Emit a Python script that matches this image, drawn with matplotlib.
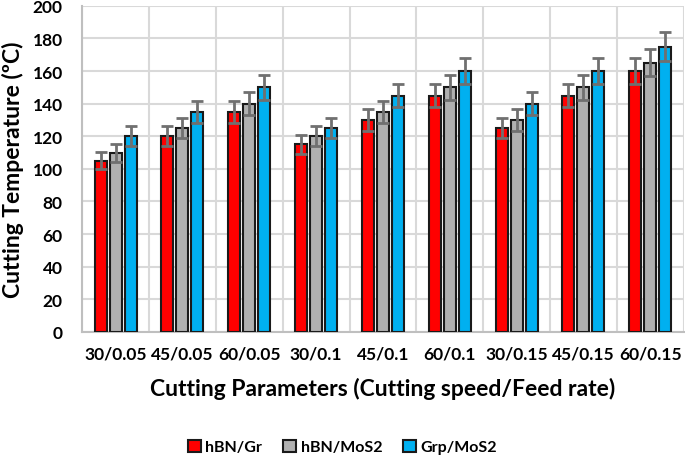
import numpy as np
import matplotlib.pyplot as plt

categories = ['30/0.05', '45/0.05', '60/0.05', '30/0.1', '45/0.1',
              '60/0.1', '30/0.15', '45/0.15', '60/0.15']
hbn_gr = [105, 120, 135, 115, 130, 145, 125, 145, 160]
hbn_mos2 = [110, 125, 140, 120, 135, 150, 130, 150, 165]
grp_mos2 = [120, 135, 150, 125, 145, 160, 140, 160, 175]
err_hbn_gr = [5.25, 6.0, 6.75, 5.75, 6.5, 7.25, 6.25, 7.25, 8.0]
err_hbn_mos2 = [5.5, 6.25, 7.0, 6.0, 6.75, 7.5, 6.5, 7.5, 8.25]
err_grp_mos2 = [6.0, 6.75, 7.5, 6.25, 7.25, 8.0, 7.0, 8.0, 8.75]

plt.rcParams['font.family'] = ['Lato', 'DejaVu Sans']
plt.rcParams['font.weight'] = 'bold'

fig = plt.figure(figsize=(6.85, 4.56), dpi=100)
ax = fig.add_axes([0.12, 0.27, 0.878, 0.715])

x = np.arange(len(categories))
w = 0.18
step = 0.224
series = [
    (hbn_gr, err_hbn_gr, '#ff0000', 'hBN/Gr'),
    (hbn_mos2, err_hbn_mos2, '#b0b0b0', 'hBN/MoS2'),
    (grp_mos2, err_grp_mos2, '#00b0f0', 'Grp/MoS2'),
]
for i, (vals, errs, col, lab) in enumerate(series):
    ax.bar(x + (i - 1) * step, vals, width=w, color=col, edgecolor='#1a1a1a',
           linewidth=1.5, label=lab, zorder=3)
    ax.errorbar(x + (i - 1) * step, vals, yerr=errs, fmt='none',
                ecolor='#707070', elinewidth=2, capsize=4.5, capthick=2, zorder=4)

ax.set_xlim(-0.5, len(categories) - 0.5)
ax.set_ylim(0, 200)
ax.set_yticks(np.arange(0, 201, 20))
ax.set_xticks(x)
ax.set_xticklabels(categories, fontsize=12.5, fontweight='bold')
ax.tick_params(axis='y', labelsize=12.5, length=0, pad=14)
ax.tick_params(axis='x', length=0, pad=10)
for lbl in ax.get_yticklabels():
    lbl.set_fontweight('bold')

ax.set_xticks(np.arange(-0.5, len(categories)), minor=True)
ax.grid(axis='y', color='#d9d9d9', linewidth=1.5, zorder=0)
ax.grid(axis='x', which='minor', color='#d9d9d9', linewidth=1.5, zorder=0)
ax.tick_params(axis='x', which='minor', length=0)
for s in ['top', 'right']:
    ax.spines[s].set_visible(False)
ax.spines['left'].set_color('#bfbfbf')
ax.spines['bottom'].set_color('#bfbfbf')
ax.spines['left'].set_linewidth(1.5)
ax.spines['bottom'].set_linewidth(1.5)

ax.set_ylabel('Cutting Temperature (ºC)', fontsize=16.5, fontweight='bold', labelpad=6)
ax.set_xlabel('Cutting Parameters (Cutting speed/Feed rate)', fontsize=16.5,
              fontweight='bold', labelpad=11)

fig.legend(loc='lower center', bbox_to_anchor=(0.5, -0.03), ncol=3, frameon=False,
           handlelength=0.8, handleheight=0.8, columnspacing=1.3,
           handletextpad=0.3, prop={'weight': 'bold', 'size': 11.5})

fig.savefig('out.png', dpi=100)
